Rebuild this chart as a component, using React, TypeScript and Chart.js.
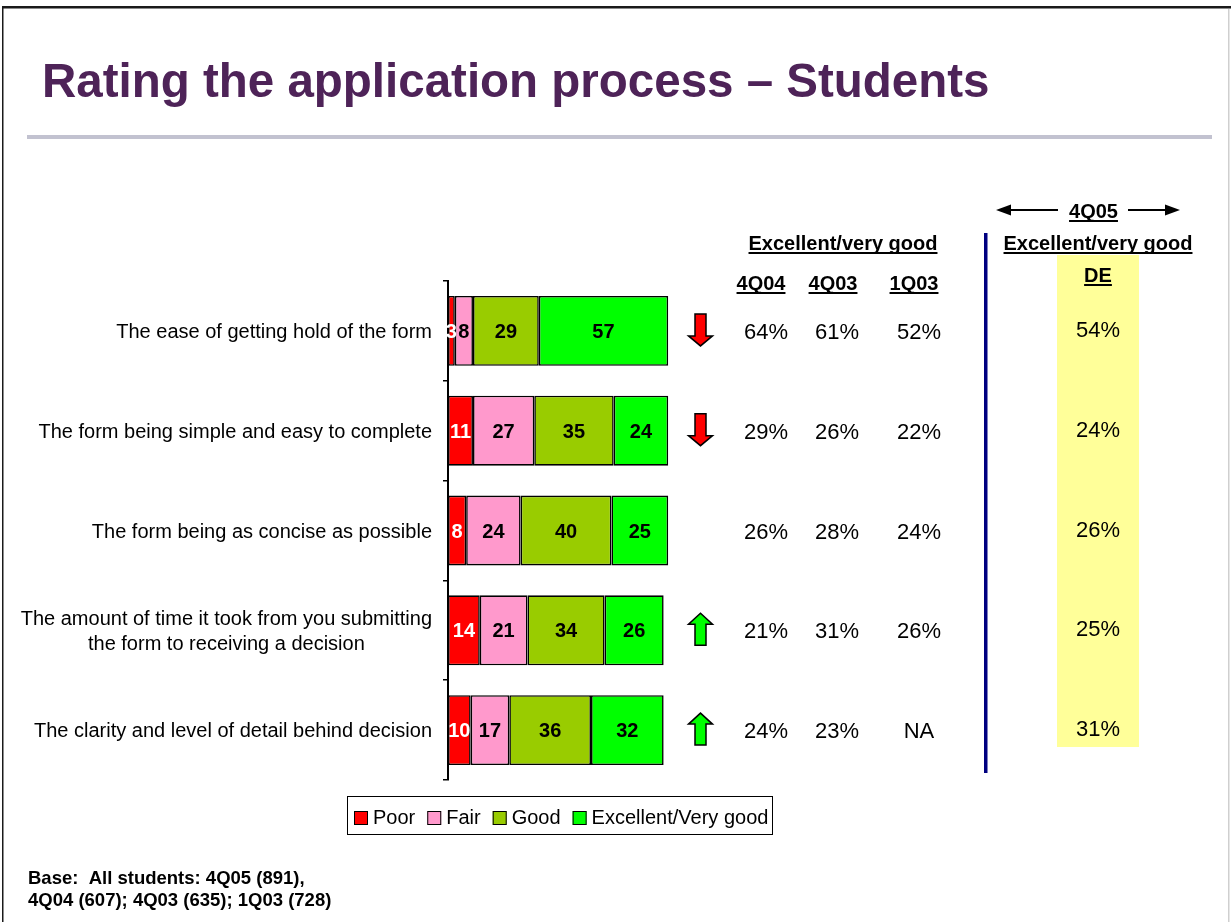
import React, { useEffect, useRef } from "react";
import { Chart, registerables } from "chart.js";

Chart.register(...registerables);

// ---------- data ----------
const categories: string[][] = [
  ["The ease of getting hold of the form"],
  ["The form being simple and easy to complete"],
  ["The form being as concise as possible"],
  ["The amount of time it took from you submitting", "the form to receiving a decision"],
  ["The clarity and level of detail behind decision"],
];
const seriesNames = ["Poor", "Fair", "Good", "Excellent/Very good"];
const poor = [3, 11, 8, 14, 10];
const fair = [8, 27, 24, 21, 17];
const good = [29, 35, 40, 34, 36];
const excellent = [57, 24, 25, 26, 32];
const seriesValues = [poor, fair, good, excellent];

const colHeaders = ["4Q04", "4Q03", "1Q03"];
const q404 = ["64%", "29%", "26%", "21%", "24%"];
const q403 = ["61%", "26%", "28%", "31%", "23%"];
const q103 = ["52%", "22%", "24%", "26%", "NA"];
const tableCols = [q404, q403, q103];
const de4q05 = ["54%", "24%", "26%", "25%", "31%"];
const trend = ["down", "down", "", "up", "up"];

const titleText = "Rating the application process \u2013 Students";
const groupHeader = "Excellent/very good";
const periodHeader = "4Q05";
const deHeader = "DE";
const footLines = ["Base:  All students: 4Q05 (891),", "4Q04 (607); 4Q03 (635); 1Q03 (728)"];

// ---------- styles ----------
const W = 1231;
const H = 922;
const FONT = "Arial, 'Liberation Sans', Helvetica, sans-serif";
const seriesColors = ["#FF0000", "#FF99CC", "#99CC00", "#00FF00"];
const labelColors = ["#FFFFFF", "#000000", "#000000", "#000000"];

function drawText(
  ctx: CanvasRenderingContext2D,
  str: string,
  x: number,
  y: number,
  font: string,
  color: string,
  align: CanvasTextAlign,
  underline = false
) {
  ctx.font = font;
  ctx.fillStyle = color;
  ctx.textAlign = align;
  ctx.textBaseline = "alphabetic";
  ctx.fillText(str, x, y);
  if (underline) {
    const w = ctx.measureText(str).width;
    let x0 = x;
    if (align === "center") x0 = x - w / 2;
    else if (align === "right" || align === "end") x0 = x - w;
    ctx.fillStyle = color;
    ctx.fillRect(x0, y + 2, w, 2);
  }
}

function blockArrow(ctx: CanvasRenderingContext2D, cx: number, cy: number, dir: string) {
  const w = 24, h = 32, sw = 11;
  const hh = dir === "down" ? 10 : 11;
  const s = dir === "down" ? 1 : -1;
  const top = cy - (s * h) / 2;
  const neck = cy + s * (h / 2 - hh);
  const tip = cy + (s * h) / 2;
  ctx.beginPath();
  ctx.moveTo(cx - sw / 2, top);
  ctx.lineTo(cx + sw / 2, top);
  ctx.lineTo(cx + sw / 2, neck);
  ctx.lineTo(cx + w / 2, neck);
  ctx.lineTo(cx, tip);
  ctx.lineTo(cx - w / 2, neck);
  ctx.lineTo(cx - sw / 2, neck);
  ctx.closePath();
  ctx.fillStyle = dir === "down" ? "#FF0000" : "#00FF00";
  ctx.fill();
  ctx.lineWidth = 1.5;
  ctx.strokeStyle = "#000";
  ctx.lineJoin = "miter";
  ctx.stroke();
}

function hArrow(ctx: CanvasRenderingContext2D, x1: number, x2: number, y: number) {
  const dir = x2 > x1 ? 1 : -1;
  ctx.strokeStyle = "#000";
  ctx.lineWidth = 2;
  ctx.beginPath();
  ctx.moveTo(x1, y);
  ctx.lineTo(x2 - dir * 12, y);
  ctx.stroke();
  ctx.fillStyle = "#000";
  ctx.beginPath();
  ctx.moveTo(x2, y);
  ctx.lineTo(x2 - dir * 15, y - 5.5);
  ctx.lineTo(x2 - dir * 15, y + 5.5);
  ctx.closePath();
  ctx.fill();
}

const slidePlugin = {
  id: "slideDecor",
  beforeDraw(chart: any) {
    const ctx: CanvasRenderingContext2D = chart.ctx;
    ctx.save();
    ctx.fillStyle = "#FFFFFF";
    ctx.fillRect(0, 0, W, H);
    // slide frame
    ctx.fillStyle = "#1a1a1a";
    ctx.fillRect(2, 6, W - 2, 2);
    ctx.fillStyle = "#8a8a8a";
    ctx.fillRect(2, 8, W - 2, 1);
    ctx.fillStyle = "#1a1a1a";
    ctx.fillRect(2, 6, 1.5, H - 6);
    ctx.fillStyle = "#cfcfcf";
    ctx.fillRect(1228, 9, 1.5, H - 9);
    // title
    drawText(ctx, titleText, 42, 97, `bold 47.5px ${FONT}`, "#4E2358", "left");
    // separator
    ctx.fillStyle = "#C2C2D0";
    ctx.fillRect(27, 135, 1185, 4);
    // highlight column
    ctx.fillStyle = "#FFFF99";
    ctx.fillRect(1057, 255, 82, 492);
    // navy divider
    ctx.fillStyle = "#000080";
    ctx.fillRect(984, 233, 3.5, 540);
    ctx.restore();
  },
  afterDatasetsDraw(chart: any) {
    const ctx: CanvasRenderingContext2D = chart.ctx;
    ctx.save();
    chart.data.datasets.forEach((ds: any, di: number) => {
      const meta = chart.getDatasetMeta(di);
      meta.data.forEach((el: any, i: number) => {
        const p = el.getProps(["x", "y", "base"], true);
        const cx = (p.x + p.base) / 2;
        drawText(ctx, String(ds.data[i]), cx, p.y + 7, `bold 20px ${FONT}`, labelColors[di], "center");
      });
    });
    ctx.restore();
  },
  afterDraw(chart: any) {
    const ctx: CanvasRenderingContext2D = chart.ctx;
    const yScale = chart.scales.y;
    ctx.save();

    // category labels
    categories.forEach((lines, i) => {
      const cy = yScale.getPixelForValue(i);
      ctx.font = `20px ${FONT}`;
      const maxW = Math.max(...lines.map((l) => ctx.measureText(l).width));
      const right = 432;
      const lh = 25;
      const first = cy + 7 - ((lines.length - 1) * lh) / 2;
      lines.forEach((l, k) => {
        if (lines.length === 1) drawText(ctx, l, right, first, `20px ${FONT}`, "#000", "right");
        else drawText(ctx, l, right - maxW / 2, first + k * lh, `20px ${FONT}`, "#000", "center");
      });
    });

    // trend arrows
    trend.forEach((t, i) => {
      if (!t) return;
      const cy = yScale.getPixelForValue(i);
      blockArrow(ctx, 700.5, cy - 1, t);
    });

    // comparison table
    drawText(ctx, groupHeader, 843, 250, `bold 20px ${FONT}`, "#000", "center", true);
    const colX = [761, 833, 914];
    const valX = [766, 837, 919];
    colHeaders.forEach((h, c) => drawText(ctx, h, colX[c], 290, `bold 20px ${FONT}`, "#000", "center", true));
    tableCols.forEach((col, c) => {
      col.forEach((v, i) => {
        const cy = yScale.getPixelForValue(i);
        drawText(ctx, v, valX[c], cy + 8, `22px ${FONT}`, "#000", "center");
      });
    });

    // 4Q05 block
    hArrow(ctx, 1058, 996, 210);
    hArrow(ctx, 1128, 1180, 210);
    drawText(ctx, periodHeader, 1093.5, 218, `bold 20px ${FONT}`, "#000", "center", true);
    drawText(ctx, groupHeader, 1098, 250, `bold 20px ${FONT}`, "#000", "center", true);
    drawText(ctx, deHeader, 1098, 282, `bold 20px ${FONT}`, "#000", "center", true);
    de4q05.forEach((v, i) => {
      const cy = yScale.getPixelForValue(i);
      drawText(ctx, v, 1098, cy + 6, `22px ${FONT}`, "#000", "center");
    });

    // legend
    ctx.strokeStyle = "#000";
    ctx.lineWidth = 1;
    ctx.strokeRect(347.5, 796.5, 425, 38);
    let lx = 354;
    chart.data.datasets.forEach((ds: any) => {
      ctx.fillStyle = ds.backgroundColor;
      ctx.fillRect(lx, 811, 14, 14);
      ctx.strokeStyle = "#000";
      ctx.lineWidth = 1;
      ctx.strokeRect(lx + 0.5, 811.5, 13, 13);
      ctx.font = `20px ${FONT}`;
      const tw = ctx.measureText(ds.label).width;
      drawText(ctx, ds.label, lx + 19, 824, `20px ${FONT}`, "#000", "left");
      lx += 19 + tw + 12;
    });

    // footnote
    footLines.forEach((l, k) => drawText(ctx, l, 28, 884 + k * 22, `bold 18.5px ${FONT}`, "#000", "left"));

    ctx.restore();
  },
};

export default function App() {
  const ref = useRef<HTMLCanvasElement | null>(null);
  useEffect(() => {
    const canvas = ref.current;
    if (!canvas) return;
    const chart = new Chart(canvas, {
      type: "bar",
      data: {
        labels: categories,
        datasets: seriesNames.map((name, i) => ({
          label: name,
          data: seriesValues[i],
          backgroundColor: seriesColors[i],
          borderColor: "#000000",
          borderWidth: 1.6,
          borderSkipped: false,
          barPercentage: 0.7,
          categoryPercentage: 1,
        })),
      },
      options: {
        indexAxis: "y",
        animation: false,
        responsive: false,
        devicePixelRatio: 1,
        layout: { padding: { left: 443, right: 556, top: 281, bottom: 142 } },
        plugins: {
          legend: { display: false },
          tooltip: { enabled: false },
          title: { display: false },
        },
        scales: {
          x: { stacked: true, min: 0, max: 100, display: false },
          y: {
            stacked: true,
            ticks: { display: false },
            grid: {
              drawOnChartArea: false,
              drawTicks: true,
              tickLength: 5,
              color: "#000000",
              lineWidth: 1.5,
              offset: true,
            },
            border: { display: true, color: "#000000", width: 2 },
          },
        },
      },
      plugins: [slidePlugin],
    } as any);
    return () => chart.destroy();
  }, []);
  return (
    <div style={{ position: "absolute", left: 0, top: 0, width: W, height: H, background: "#fff" }}>
      <canvas ref={ref} width={W} height={H} style={{ display: "block" }} />
    </div>
  );
}
